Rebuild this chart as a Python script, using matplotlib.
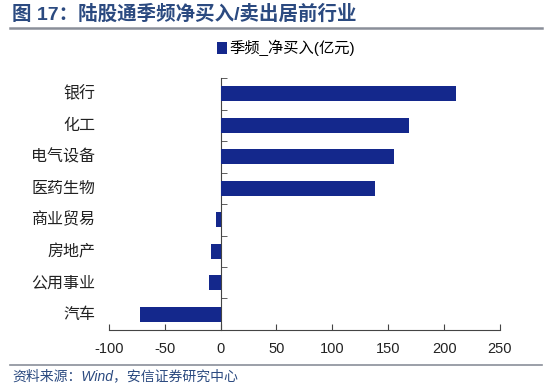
import matplotlib
matplotlib.use("Agg")
import matplotlib.pyplot as plt
from matplotlib.lines import Line2D

plt.rcParams['font.family'] = ['Liberation Sans', 'Noto Sans CJK SC', 'DejaVu Sans']

categories = ['银行', '化工', '电气设备', '医药生物', '商业贸易', '房地产', '公用事业', '汽车']
values = [211, 169, 155, 138, -4, -9, -10, -72]
xticks = [-100, -50, 0, 50, 100, 150, 200, 250]
series_name = '季频_净买入(亿元)'
title = '图 17：陆股通季频净买入/卖出居前行业'
source = '资料来源：Wind，安信证券研究中心'

bar_color = '#14288C'
title_color = '#2B4A80'

fig = plt.figure(figsize=(5.5, 3.85), dpi=100)
ax = fig.add_axes([0.198, 0.143, 0.711, 0.654])

ypos = list(range(len(categories)))
bars = ax.barh(ypos, values, height=0.48, color=bar_color, label=series_name, zorder=3)

ax.set_ylim(len(categories) - 0.5, -0.5)
ax.set_xlim(xticks[0], xticks[-1])
ax.set_xticks(xticks)
ax.set_xticklabels([str(t) for t in xticks], fontsize=10.5, color='#222222')

ax.spines['top'].set_visible(False)
ax.spines['right'].set_visible(False)
ax.spines['left'].set_position(('data', 0))
ax.spines['left'].set_color('#444444')
ax.spines['bottom'].set_color('#444444')

ax.set_yticks(ypos)
ax.set_yticklabels([])
ax.tick_params(axis='y', which='major', length=0)
ax.set_yticks([i - 0.5 for i in range(len(categories) + 1)], minor=True)
ax.tick_params(axis='y', which='minor', direction='in', length=4, color='#444444')
ax.tick_params(axis='x', direction='in', length=4, color='#444444', pad=9)

ytrans = ax.get_yaxis_transform()
for i, c in enumerate(categories):
    ax.text(-0.035, i, c, transform=ytrans, ha='right', va='center', fontsize=11.5, color='#222222')

ax.legend(loc='center', bbox_to_anchor=(0.52, 0.875), bbox_transform=fig.transFigure,
          frameon=False, handlelength=0.7, handleheight=0.9, handletextpad=0.15,
          prop={'size': 11})

fig.text(0.022, 0.962, title, fontsize=14, fontweight='bold', color=title_color,
         ha='left', va='center')
fig.add_artist(Line2D([0.018, 0.985], [0.927, 0.927], transform=fig.transFigure,
                      color='#8A8F99', linewidth=1.8))
fig.add_artist(Line2D([0.018, 0.985], [0.052, 0.052], transform=fig.transFigure,
                      color='#8A8F99', linewidth=1.2))
fig.text(0.022, 0.024, source, fontsize=10, style='italic', color=title_color,
         ha='left', va='center')

fig.savefig('out.png', dpi=100)
